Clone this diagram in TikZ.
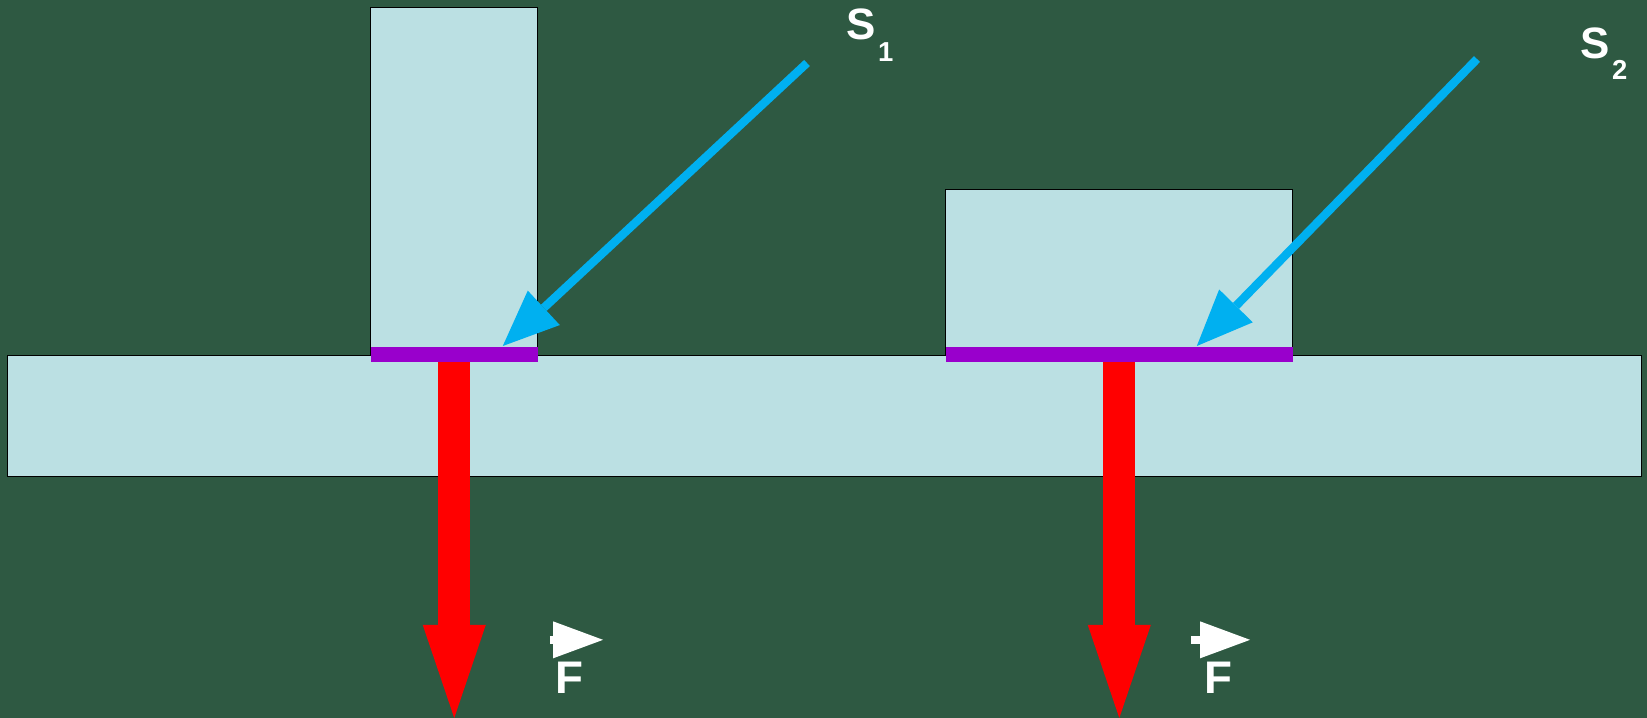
\documentclass[tikz,border=0pt]{standalone}
\usepackage{fontspec}
\setmainfont{Liberation Sans}
\usetikzlibrary{arrows.meta}
\definecolor{boardgreen}{HTML}{2E5942}
\definecolor{icefill}{HTML}{BBE0E3}
\definecolor{areaviolet}{HTML}{9900CC}
\definecolor{pointerblue}{HTML}{00B0F0}
\begin{document}
\begin{tikzpicture}[
  x=0.01cm, y=-0.01cm,
  body/.style={draw=black, line width=0.35pt, fill=icefill, anchor=north west, inner sep=0pt},
  contact/.style={fill=areaviolet, anchor=north west, inner sep=0pt, minimum height=0.15cm},
  force/.style={draw=red, line width=3.2mm, -{Triangle[length=9.3mm,width=6.3mm,line width=0pt]}},
  pointer/.style={draw=pointerblue, line width=0.84mm, -{Triangle[length=5.6mm,width=4.7mm,line width=0pt]}},
  vecmark/.style={draw=white, line width=0.8mm, -{Triangle[length=5mm,width=3.7mm,line width=0pt]}},
  tag/.style={text=white, font=\bfseries, inner sep=0pt, anchor=base west}
]
\useasboundingbox (0,0) rectangle (1647,718);
\fill[boardgreen] (0,0) rectangle (1647,718);
\node[body, minimum width=16.33cm, minimum height=1.21cm] (base) at (7,355) {};
\node[body, minimum width=1.67cm, minimum height=3.48cm] (pillar) at (370,7) {};
\node[body, minimum width=3.47cm, minimum height=1.66cm] (block) at (945,189) {};
\node[contact, minimum width=1.67cm] (seatone) at (370,346) {};
\node[contact, minimum width=3.47cm] (seattwo) at (945,346) {};
\coordinate (floor) at (0,718);
\coordinate (tailone) at (807,63);
\coordinate (tailtwo) at (1477,59);
\draw[force] (seatone.south) -- (seatone.south |- floor);
\draw[force] (seattwo.south) -- (seattwo.south |- floor);
\draw[pointer] (tailone) -- ([xshift=0.485cm]seatone.north);
\draw[pointer] (tailtwo) -- ([xshift=0.775cm]seattwo.north);
\node[tag] (sone) at (846,40) {\fontsize{12.5}{15}\selectfont S\kern0.02cm\raisebox{-0.21cm}{\fontsize{7.8}{9}\selectfont 1}};
\node[tag] (stwo) at (1580,58) {\fontsize{12.5}{15}\selectfont S\kern0.02cm\raisebox{-0.21cm}{\fontsize{7.8}{9}\selectfont 2}};
\node[tag] (fone) at (555,693) {\fontsize{13}{16}\selectfont F};
\node[tag] (ftwo) at (1204,693) {\fontsize{13}{16}\selectfont F};
\draw[vecmark] ([xshift=-0.05cm,yshift=0.21cm]fone.north west) -- ([xshift=0.48cm,yshift=0.21cm]fone.north west);
\draw[vecmark] ([xshift=-0.13cm,yshift=0.21cm]ftwo.north west) -- ([xshift=0.46cm,yshift=0.21cm]ftwo.north west);
\end{tikzpicture}
\end{document}
